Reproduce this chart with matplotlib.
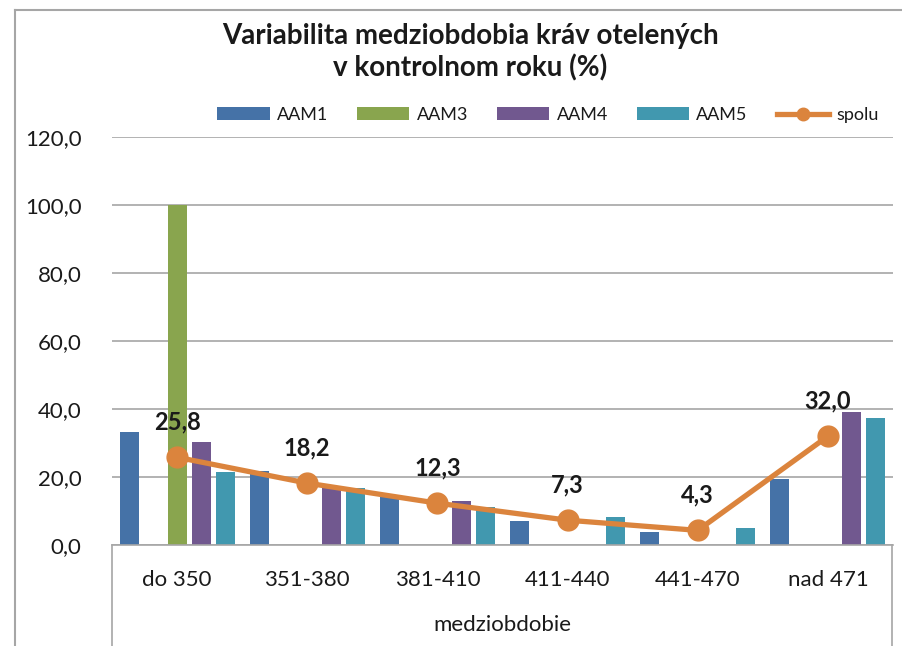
import matplotlib
matplotlib.use("Agg")
import matplotlib.pyplot as plt
import numpy as np
from matplotlib.lines import Line2D
from matplotlib.patches import Patch

plt.rcParams['font.family'] = ['Lato', 'DejaVu Sans']

categories = ["do 350", "351-380", "381-410", "411-440", "441-470", "nad 471"]
aam1 = [33.3, 21.8, 14.2, 7.1, 3.9, 19.4]
aam3 = [100.0, 0, 0, 0, 0, 0]
aam4 = [30.4, 17.2, 13.0, 0, 0, 39.0]
aam5 = [21.6, 16.7, 11.2, 8.2, 4.9, 37.4]
spolu = [25.8, 18.2, 12.3, 7.3, 4.3, 32.0]
yticks = [0, 20, 40, 60, 80, 100, 120]

W, H = 902, 646
fig = plt.figure(figsize=(W / 100, H / 100), dpi=100)
x0, x1 = 112, 893
yb, yt = 545, 137
ax = fig.add_axes([x0 / W, (H - yb) / H, (x1 - x0) / W, (yb - yt) / H])

x = np.arange(len(categories))
slot = 0.1843
bw = 0.146
series = [("AAM1", aam1, -2, '#4572A7'), ("AAM3", aam3, 0, '#89A54E'),
          ("AAM4", aam4, 1, '#71588F'), ("AAM5", aam5, 2, '#4198AF')]
handles = []
for name, vals, off, col in series:
    ax.bar(x + off * slot, vals, width=bw, color=col, label=name, zorder=2)
    handles.append(Patch(facecolor=col, label=name))

line_col = '#DB843D'
ax.plot(x, spolu, color=line_col, lw=3.8, marker='o', markersize=15,
        label='spolu', zorder=3)
handles.append(Line2D([], [], color=line_col, lw=3.8, marker='o', markersize=9, label='spolu'))
for xi, v in zip(x, spolu):
    ax.annotate(f"{v:.1f}".replace('.', ','), (xi, v), xytext=(0, 35),
                textcoords='offset pixels', ha='center', va='center',
                fontsize=17, fontweight='bold', color='#1a1a1a', zorder=4)

ax.set_xlim(-0.5, len(categories) - 0.5)
ax.set_ylim(0, 120)
ax.set_yticks(yticks)
ax.set_yticklabels([f"{t:.1f}".replace('.', ',') for t in yticks], fontsize=16, color='#1a1a1a')
ax.tick_params(axis='y', length=0, pad=22)
ax.set_xticks(x)
ax.set_xticklabels(categories, fontsize=16, color='#1a1a1a')
ax.tick_params(axis='x', length=0, pad=18)
ax.grid(axis='y', color='#a6a6a6', lw=1.2, zorder=0)
for s in ['top', 'right', 'left']:
    ax.spines[s].set_visible(False)
ax.spines['bottom'].set_color('#a6a6a6')
ax.spines['bottom'].set_linewidth(1.2)
ax.set_xlabel("medziobdobie", fontsize=16, color='#1a1a1a', labelpad=18)

def fx(px):
    return px / W

def fy(py):
    return (H - py) / H

for px in (x0 - 0.5, x1 - 1):
    fig.add_artist(Line2D([fx(px), fx(px)], [fy(yb), fy(H + 2)], color='#a6a6a6', lw=1.2))
fig.add_artist(Line2D([fx(15), fx(15)], [fy(10), fy(H + 2)], color='#a6a6a6', lw=1.5))
fig.add_artist(Line2D([fx(15), fx(W + 2)], [fy(10), fy(10)], color='#a6a6a6', lw=1.5))

fig.text(fx(470), fy(52), "Variabilita medziobdobia kráv otelených\nv kontrolnom roku (%)",
         ha='center', va='center', fontsize=20, fontweight='bold', color='#1a1a1a',
         linespacing=1.25)

leg = fig.legend(handles=handles, loc='center', bbox_to_anchor=(fx(548), fy(115)), ncol=5,
                 frameon=False, fontsize=13, handlelength=2.9, handleheight=0.75,
                 columnspacing=1.6, handletextpad=0.4)
for t in leg.get_texts():
    t.set_color('#1a1a1a')

fig.savefig("out.png", dpi=100, facecolor='white')
